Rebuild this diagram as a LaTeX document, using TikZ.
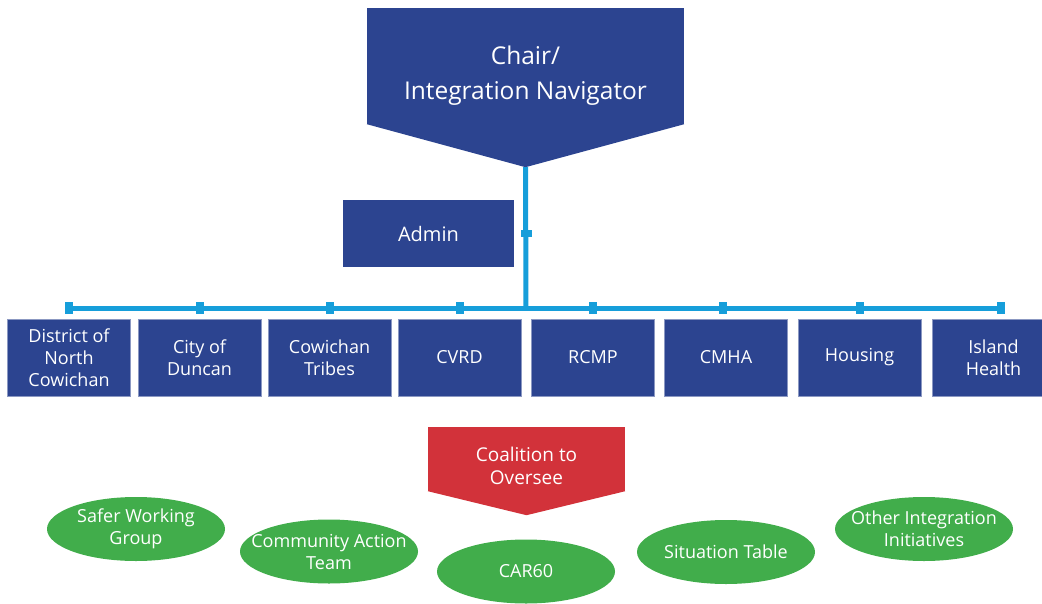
\documentclass[tikz,border=0pt]{standalone}
\usepackage{fontspec}
\setmainfont{Open Sans}
\usetikzlibrary{positioning,calc,shapes}
\definecolor{navy}{RGB}{44,68,144}
\definecolor{linkblue}{RGB}{22,158,218}
\definecolor{alarmred}{RGB}{210,50,58}
\definecolor{leafgreen}{RGB}{65,173,75}

\begin{document}
\begin{tikzpicture}[x=1pt,y=-1pt,% List of styles, pixel units with y pointing down
					every node/.style={
						align=center,  		% so that "\\" breaks the line
						text=white,
						inner sep=0pt
						},
					headbox/.style={rectangle,fill=navy,minimum width=317pt,minimum height=116pt},
					headtext/.style={font=\fontsize{24.5}{35}\selectfont},
					adminbox/.style={rectangle,fill=navy,minimum width=171pt,minimum height=67pt,font=\fontsize{20}{24}\selectfont},
					member/.style={rectangle,fill=navy,draw=navy!55,minimum width=123pt,minimum height=77pt,font=\fontsize{18}{22}\selectfont},
					coalbox/.style={rectangle,fill=alarmred,minimum width=197pt,minimum height=64pt},
					coaltext/.style={font=\fontsize{19}{23}\selectfont},
					group/.style={ellipse,fill=leafgreen,inner xsep=-20pt,minimum width=178pt,minimum height=64pt,font=\fontsize{18}{22}\selectfont},
					tick/.style={rectangle,fill=linkblue,minimum width=8pt,minimum height=12pt},
					sidetick/.style={rectangle,fill=linkblue,minimum width=11pt,minimum height=7pt},
					bus/.style={draw=linkblue,line width=5pt}
					]
\useasboundingbox (0,0) rectangle (1042,603);
% top of the chart
\node[headbox,label={[headtext,yshift=-10pt]center:Chair/\\Integration Navigator}](chair) at (525.5,66){};
\fill[navy] (chair.south west) -- (chair.south east) -- ($(chair.south)+(0,43)$) coordinate (chairtip) -- cycle;
\node[adminbox](admin) at (428.5,233.5){Admin};
\node[sidetick](admintick) at (526,233.5){};
\coordinate (hub) at (526,308);
% ticks along the bus
\foreach \x [count=\i] in {69,200,330,460,593,723,860,1001}
	\node[tick](t\i) at (\x,308){};
\path[bus]
(chairtip)edge (hub)
(t1.center)edge (t8.center)
;
% partner boxes
\node[member](dnc) at (69,357.5){District of\\North\\Cowichan};
\node[member](duncan) at (199.5,357.5){City of\\Duncan};
\node[member](tribes) at (329.5,357.5){Cowichan\\Tribes};
\node[member](cvrd) at (459.5,357.5){CVRD};
\node[member](rcmp) at (593,357.5){RCMP};
\node[member](cmha) at (726,357.5){CMHA};
\node[member](housing) at (859.5,357.5){Housing};
\node[member](island) at (993.5,357.5){Island\\Health};
% coalition and groups
\node[coalbox,label={[coaltext,yshift=-7pt]center:Coalition to\\Oversee}](coalition) at (526.5,459){};
\fill[alarmred] (coalition.south west) -- (coalition.south east) -- ($(coalition.south)+(0,24)$) coordinate (coaltip) -- cycle;
\node[group](safer) at (136,529){Safer Working\\Group};
\node[group](cat) at (329,551.5){Community Action\\Team};
\node[group](car) at (526,571.5){CAR60};
\node[group](situation) at (726,552){Situation Table};
\node[group](other) at (924,529){Other Integration\\Initiatives};
\end{tikzpicture}
\end{document}
